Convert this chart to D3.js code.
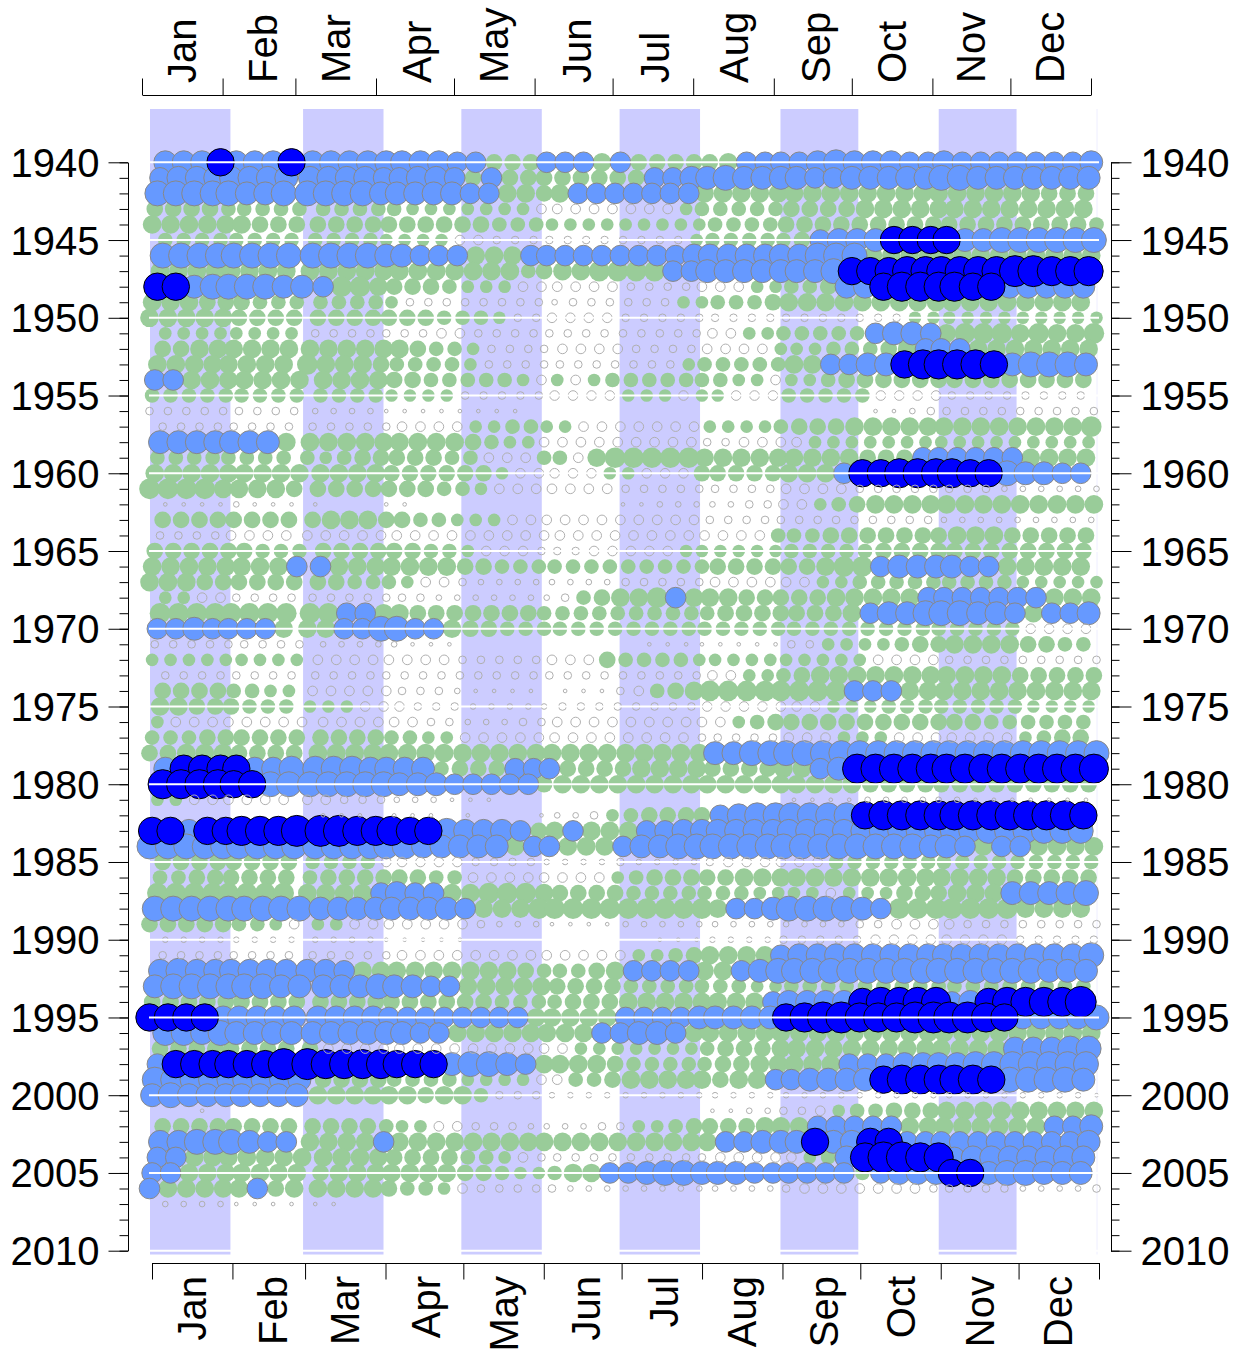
<!DOCTYPE html>
<html>
<head>
<meta charset="utf-8">
<title>Weekly values by year</title>
<script src="https://cdnjs.cloudflare.com/ajax/libs/d3/7.8.5/d3.min.js"></script>
<style>
   html, body { margin: 0; padding: 0; background: #fff; }
   svg { display: block; }
   text { font-family: "Liberation Sans", Arial, sans-serif; font-size: 40px; fill: #000; }
   .axis path, .axis line { stroke: #000; stroke-width: 1; }
</style>
</head>
<body>
<svg id="chart" width="1235" height="1353"></svg>
<script>
var monthNames = ['Jan', 'Feb', 'Mar', 'Apr', 'May', 'Jun', 'Jul', 'Aug', 'Sep', 'Oct', 'Nov', 'Dec'];
var monthStartDays = [0, 31, 59, 90, 120, 151, 181, 212, 243, 273, 304, 334, 365];
var shadedMonths = [0, 2, 4, 6, 8, 10];
var yearLabels = [1940, 1945, 1950, 1955, 1960, 1965, 1970, 1975, 1980, 1985, 1990, 1995, 2000, 2005, 2010];
var firstYear = 1940;

// one string per year, one hex digit per Sunday of that year ('.' = no reading, spaces are only for reading)
var weekLevels = [
   'bbbdbbbd bbbbbbbba a777aaa8a 777778aaaabcbbbaabaaaaaaab',
   'abbbbbbb bbbbaabba 7a7777777 7aabbcbbbbaabbbbbccbbbbbbb',
   'cccccbbc ccccbbbbb aa8878aaa aaaa8888888888888888888777',
   '777766666 66666555 555544444 44456666677778888888888888',
   '888888777 77777777 776665555 555556666777777777777777776',
   '66666666 66665555 443333333 333356666 67abbbddddbbcccccc',
   'cccccccc ccccbbaaa 888aaaaaa aaabbbbbbbccc8888888888888',
   '88888888 888888888 888678899 99aabbbbbbbcdddeeeeeeffeee',
   'ddbccccb ba9987776 555444444 333344455667bbdeeeeddbbbbb',
   '888777666 66665333 333332333 333556667 88888888888888888',
   '888887777 77777776 665334444 333333333333333355555555555',
   '55555555 333333344 33333333 33333445566666abba899989889',
   '77888888 888888766 533334444 33334444555666 78aaa8888888',
   '88888888 988876666 533333333 33356666688aabbdeeeedbcccb',
   'aa8888888 88887766 666545456 66666655 4556 77777777777777',
   '666666666 66665555 333334444 555455444666664444 33333333',
   '333333333 22221111 1111 ................... 1123 333333333',
   '33333333 333334444 556655444 444455556777 8888888888888 9',
   'bbbbbbb8 888888888 765544444 4444334444 5555555555555555',
   '66666666 656777776 644466489 9999888888888777aaaaaa8888',
   '888888888 88887777 775444445 544477777888addeeeeddcbbaa',
   '999988887 77777776 654444444 3333333334444 33333333 222222',
   '11112111 1...11... ........ 11222223344567 8888888888888',
   '77777777 788877665 554444444 4444 3333333333333 222222222',
   '33334444 444444444 444444444 44444444 666 7777777 888 77777',
   '777777666 77777766 544433344 444 555555 66666 777777777777',
   '88888888a a8888888 776666666 66666 777777 8 99 abbbbaa 88888',
   '888777777 77666544 322222222 33333 444444 55 666666666 55555',
   '55443333 333333322 222223678 89a 888 77777 88888 aaaaaaa 888',
   '99999999 99aa88777 777766666 66666 7777777 8 abbcccbba 8 aab',
   'aabaaaa8 88aaccaa8 776666666 6666666666666666666666 4444',
   '333333333 22222111 ......... . 11111111 33 5555 677 8888 77 66',
   '555555555 44444444 333334447 6666 5555555555 4444 333333333',
   '33333333 333333333 33333333 33333 44 55 67 88888888888 77777',
   '77776655 444443332 1111.1113 4678 99999999 aaa 88888888888',
   '88777666 555444333 222223333 3333 4444444 555 66666666 5555',
   '544444444 44444433 222334444 444444 5 6 777777777777 666666',
   '666777777 77776655 444444444 4444 33333 444 555 4444444 5677',
   '778887777 88888888 888888888 88888 bb cccccccccccccccccccc',
   'bddddbbc cccbbbb67 77aaa777 78888777788ab eeeeeeeeeeeeee',
   'eeeeddcc cccccbbba aaaa78888 8888888888888 7777777777777',
   '55444444 443332221 11....... ......... 11112222221111111',
   '......... 111.111. 1...12235 67777 abcccccc deeeeeeeeeeed',
   'ddbddeeef ffeeeddc bbba78a88 8aa bbbbbbbbbbbbbbbbb cccccc',
   'ccccccccc ccccccbb bbb8aa888 abb cccccccccccccc bb a 8 aa 8888',
   '77777777 666644444 333322223 22223444444 666666666666666',
   '66777777 677777766 444444445 6 77777 888888888888888 77777',
   '99999999 8888abaa8 899987777 6666666 5555 4 555 777 888 bbbb c',
   'ccccccccc bbbbbbbb a88899999 99999 8 aabccccba 9999999 8888',
   '777776654 55444444 432221111 2222222222222 33 4444 333 33333',
   '22222222 222211111 ........ .. 111 2222 33333 4444 4444 33333',
   '33333333 333334444 444444444 55 6 7 8888 a bbbbbbbbbbbbbbbb c',
   'bcbbbbbb bba888888 888766678 aaaa88 abcccccccccccccccbbb',
   'bccccccbb bbbcbbaa 888887777 6666666 55 66666666666666666',
   '777777777 77777777 776666777 88888888 abbbb deeee ab deeeef',
   'ddddbbbbb bbbbaaaa aaaa88888 aaaabbbbb deffeeeffffed bbbbc',
   'ccbcbbbb bbbbbbaa8 8888888aa bba 88888888888888888888888',
   '77777777 744444444 444444555 5555 6 777 8888888888888 bbbcc',
   'addddddf feeeedddb ccba88887 66666 77 8888 8 aaa bbbb ccccccc',
   'ccbbbbbbb 77776666 555544667 88888 7 88 aabbbb deeeeed ccccb',
   'bcbbbbbbb 88888878 863332222 22222222222222222222222222 1',
   '..1...................... ..... 1122334 5 66 777 888888888',
   '77777777 777765544 333222233 5567777888 aaaaa 88888888 aab',
   'bbcccbaa 8888a8888 888888888 88888 aabbb d bb dd aaaaaaaaaab',
   'aa8888888 88887777 665433333 3333344444 56 b eff ee abbbbbbb',
   'aa8888888 78888888 776556 88a abccbbbaaaaaa6abbbddbccbbb',
   'a88888a78 88887665 433333222 222222222 3 4444444 33333 2222 3',
   '22221111 11'
];

// ---- scales

var yearScale = d3.scaleLinear().domain([1940, 2010]).range([162.3, 1250.7]);
var bandScale = d3.scaleLinear().domain([0, 365]).range([150, 1097]);
var topScale = d3.scaleLinear().domain([0, 365]).range([142, 1091]);
var bottomScale = d3.scaleLinear().domain([0, 365]).range([152, 1099]);
// the weekly points sit on a calendar of twelve equal months
var monthScale = d3.scaleLinear().domain([0, 12]).range([149.5, 1096.5]);
var radiusScale = d3.scaleLinear().domain([1, 9, 10, 11, 12, 13, 15]).range([2.33, 10.33, 10.83, 12, 13, 14.2, 16]);
var classScale = d3.scaleThreshold().domain([5, 10, 13]).range(['open', 'green', 'light', 'dark']);

var markStyles = {
   open: {fill: 'none', stroke: '#b0b0b0'},
   green: {fill: '#99cc99', stroke: 'none'},
   light: {fill: '#6699ff', stroke: '#888888'},
   dark: {fill: '#0000ff', stroke: '#000000'}
};
var layerOrder = ['green', 'light', 'dark', 'open'];
var monthLabelNudge = [-2, 2, -2, 0, -2, 1, 0, -2, 1, -2, -2, -3];

// ---- turn the level strings into points

var points = [];

weekLevels.forEach(function (row, i) {
   var year = firstYear + i;
   var levels = row.replace(/\s/g, '');
   var sundays = d3.utcSunday.range(new Date(Date.UTC(year, 0, 1)), new Date(Date.UTC(year + 1, 0, 1)));

   sundays.forEach(function (date, w) {
      var ch = levels.charAt(w);
      if (!ch || ch === '.') return;

      var level = parseInt(ch, 16);
      points.push({
         year: year,
         level: level,
         monthPosition: date.getUTCMonth() + (date.getUTCDate() - 1) / 30
      });
   });
});

// ---- drawing

var svg = d3.select('#chart');

svg.append('g').selectAll('rect')
   .data(shadedMonths)
   .enter().append('rect')
   .attr('x', function (m) { return bandScale(monthStartDays[m]); })
   .attr('width', function (m) { return bandScale(monthStartDays[m + 1]) - bandScale(monthStartDays[m]); })
   .attr('y', 109)
   .attr('height', 1145.5)
   .attr('fill', '#ccccff');

svg.append('line')
   .attr('x1', bandScale(365)).attr('x2', bandScale(365))
   .attr('y1', 109).attr('y2', 1254.5)
   .attr('stroke', '#eeeeff');

var layers = svg.selectAll('g.layer')
   .data(layerOrder)
   .enter().append('g')
   .attr('class', 'layer');

layers.selectAll('circle')
   .data(function (name) {
      return points.filter(function (d) { return classScale(d.level) === name; });
   })
   .enter().append('circle')
   .attr('cx', function (d) { return monthScale(d.monthPosition); })
   .attr('cy', function (d) { return yearScale(d.year); })
   .attr('r', function (d) {
      return radiusScale(d.level) - (classScale(d.level) === 'green' ? 0 : 0.5);
   })
   .attr('fill', function (d) { return markStyles[classScale(d.level)].fill; })
   .attr('stroke', function (d) { return markStyles[classScale(d.level)].stroke; })
   .attr('stroke-width', 1);

svg.append('g').selectAll('line')
   .data(yearLabels)
   .enter().append('line')
   .attr('x1', 149).attr('x2', 1099)
   .attr('y1', function (d) { return yearScale(d); })
   .attr('y2', function (d) { return yearScale(d); })
   .attr('stroke', '#fff')
   .attr('stroke-width', 2);

// year axes, major ticks with labels and one minor tick for every year
var minorYears = d3.range(1940, 2011);

function drawYearAxis(axisFn, x, majorSize, minorSize, padding) {
   svg.append('g')
      .attr('class', 'axis')
      .attr('transform', 'translate(' + x + ',0)')
      .call(axisFn(yearScale).tickValues(minorYears).tickSize(minorSize).tickSizeOuter(0).tickFormat(''));

   svg.append('g')
      .attr('class', 'axis')
      .attr('transform', 'translate(' + x + ',0)')
      .call(axisFn(yearScale).tickValues(yearLabels).tickSize(majorSize).tickSizeOuter(0)
         .tickPadding(padding).tickFormat(d3.format('d')))
      .selectAll('text')
      .attr('dy', '0.35em');
}

drawYearAxis(d3.axisLeft, 128, 19.5, 8.5, 9);
drawYearAxis(d3.axisRight, 1111, 20.5, 8.5, 9);

// month axes, the labels stand between the ticks
function drawMonthAxis(axisFn, scale, y, labelY, anchor) {
   svg.append('g')
      .attr('class', 'axis')
      .attr('transform', 'translate(0,' + y + ')')
      .call(axisFn(scale).tickValues(monthStartDays).tickSize(16.5).tickSizeOuter(0).tickFormat(''));

   svg.append('g').selectAll('text')
      .data(monthNames)
      .enter().append('text')
      .attr('text-anchor', anchor)
      .attr('transform', function (name, i) {
         var mid = (scale(monthStartDays[i]) + scale(monthStartDays[i + 1])) / 2;
         return 'translate(' + (mid + 16 + monthLabelNudge[i]) + ',' + labelY + ') rotate(-90)';
      })
      .text(function (name) { return name; });
}

drawMonthAxis(d3.axisTop, topScale, 95, 83, 'start');
drawMonthAxis(d3.axisBottom, bottomScale, 1263, 1276, 'end');
</script>
</body>
</html>
